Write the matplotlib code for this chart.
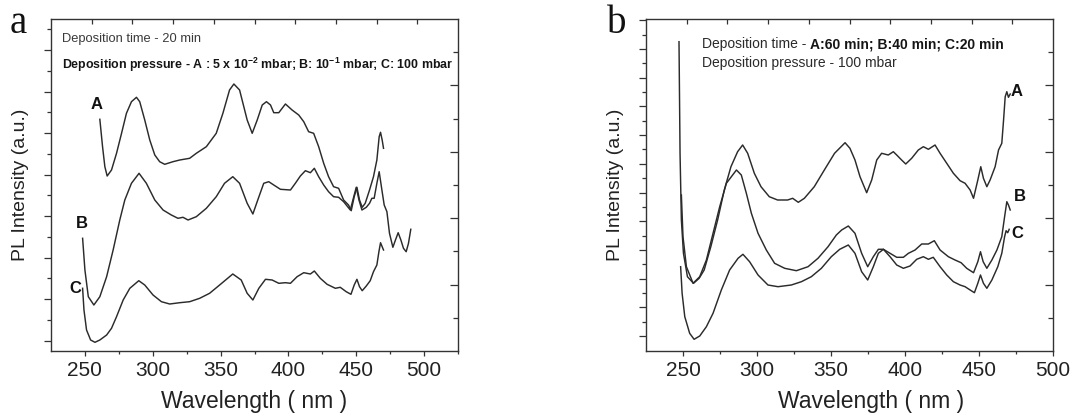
import numpy as np
import matplotlib
matplotlib.use("Agg")
import matplotlib.pyplot as plt
from matplotlib.transforms import offset_copy

plt.rcParams["font.family"] = ["Liberation Sans", "DejaVu Sans"]
plt.rcParams["mathtext.fontset"] = "custom"
plt.rcParams["mathtext.rm"] = "Liberation Sans"
plt.rcParams["mathtext.bf"] = "Liberation Sans:bold"
plt.rcParams["mathtext.it"] = "Liberation Sans:italic"

# ---------------- panel a: deposition time 20 min, varying pressure ----------------
wl_a_A = [261.0, 263.0, 264.7, 266.4, 269.6, 273.3, 277.0, 280.6, 284.3, 288.0,
          290.4, 294.1, 297.8, 301.5, 305.1, 308.8, 314.9, 319.9, 327.2, 332.1,
          339.5, 346.8, 351.7, 356.6, 359.8, 364.0, 369.6, 373.3, 377.0, 380.7,
          383.8, 386.8, 389.2, 392.9, 397.8, 402.7, 407.6, 411.3, 414.9, 418.6,
          422.3, 426.0, 429.6, 433.3, 437.0, 440.7, 444.3, 446.3, 448.5, 450.5,
          452.4, 454.4, 456.6, 459.8, 462.7, 465.2, 466.9, 467.9, 469.1, 470.1]
pl_a_A = [231.7, 204.3, 184.3, 175.0, 181.0, 197.7, 217.7, 237.7, 249.3, 253.7,
          249.3, 231.0, 211.0, 196.0, 189.3, 186.7, 189.3, 191.0, 192.7, 197.7,
          204.3, 217.7, 237.7, 261.0, 267.0, 261.0, 231.0, 217.7, 231.0, 246.0,
          249.3, 246.0, 238.3, 238.3, 247.0, 241.0, 236.0, 229.3, 219.3, 217.7,
          204.3, 187.7, 174.3, 164.3, 162.7, 151.0, 146.0, 140.3, 154.3, 163.7,
          151.0, 143.7, 147.7, 161.0, 174.3, 191.0, 214.3, 218.7, 211.0, 202.7]

wl_a_B = [248.3, 250.0, 252.5, 256.6, 261.0, 266.0, 270.8, 275.7, 279.4, 284.3,
          289.9, 295.3, 301.5, 307.6, 313.7, 318.6, 322.3, 326.0, 332.1, 339.5,
          346.8, 352.9, 359.0, 364.0, 369.6, 373.8, 377.4, 381.8, 385.5, 389.2,
          394.1, 401.5, 405.1, 408.8, 412.5, 416.2, 419.1, 422.3, 426.0, 429.6,
          433.3, 437.0, 440.7, 445.6, 448.5, 450.0, 452.0, 454.2, 457.4, 459.8,
          461.5, 463.2, 465.2, 466.9, 468.9, 470.6, 472.6, 474.5, 477.0, 478.9,
          480.9, 482.9, 484.8, 486.8, 488.5, 490.2]
pl_a_B = [112.7, 81.0, 54.3, 46.0, 54.3, 74.3, 101.0, 131.0, 151.0, 167.7,
          177.7, 167.7, 151.0, 141.0, 136.0, 132.7, 133.7, 131.0, 134.3, 142.7,
          154.3, 167.7, 174.3, 167.7, 147.7, 137.0, 151.0, 167.7, 169.3, 166.0,
          161.7, 161.0, 167.7, 175.0, 180.3, 178.3, 182.7, 174.3, 166.0, 159.3,
          154.3, 153.7, 149.3, 141.0, 156.0, 163.7, 151.0, 141.0, 143.7, 147.7,
          152.7, 152.7, 167.7, 179.3, 161.0, 146.0, 139.3, 117.7, 103.7, 111.0,
          118.3, 111.0, 102.7, 99.3, 107.7, 121.7]

wl_a_C = [248.3, 249.3, 251.2, 254.2, 257.4, 261.0, 266.0, 269.6, 273.3, 278.2,
          283.1, 289.7, 294.1, 300.2, 306.4, 312.5, 319.9, 327.2, 334.6, 341.9,
          349.3, 359.0, 365.2, 369.6, 373.8, 378.2, 383.1, 388.0, 392.9, 397.8,
          401.5, 406.4, 411.3, 416.2, 419.1, 423.5, 428.5, 434.6, 438.2, 442.6,
          446.1, 448.5, 450.5, 452.4, 454.4, 457.4, 460.3, 462.7, 465.2, 466.7,
          467.9, 469.1, 470.1]
pl_a_C = [62.7, 41.0, 21.0, 11.0, 8.7, 11.0, 16.0, 22.7, 34.3, 51.0,
          62.7, 70.3, 66.0, 56.0, 49.3, 47.0, 48.3, 49.3, 52.7, 57.7,
          66.0, 77.0, 71.0, 57.7, 51.0, 62.7, 71.7, 71.0, 67.7, 68.3,
          67.7, 74.3, 78.3, 77.0, 80.0, 72.7, 66.7, 62.7, 63.7, 59.3,
          56.7, 66.0, 71.7, 64.3, 60.3, 65.0, 70.3, 79.3, 86.0, 99.3,
          108.3, 104.3, 101.0]

# ---------------- panel b: pressure 100 mbar, varying deposition time ----------------
wl_b_A = [247.3, 248.0, 248.9, 250.3, 253.0, 257.1, 260.9, 264.3, 268.8, 273.4,
          277.9, 282.4, 286.9, 290.3, 293.7, 298.2, 302.7, 308.3, 313.9, 320.7,
          324.1, 327.9, 332.0, 338.7, 345.5, 352.4, 359.5, 362.8, 366.2, 369.6,
          374.1, 377.5, 380.9, 384.2, 388.7, 392.1, 394.4, 397.7, 400.5, 404.5,
          409.0, 412.4, 415.8, 420.3, 423.7, 428.2, 432.7, 437.2, 440.6, 444.0,
          446.3, 449.2, 451.2, 453.0, 455.3, 457.5, 460.9, 463.2, 465.4, 466.6,
          467.7, 468.8, 469.9, 471.1]
pl_b_A = [309.3, 197.7, 131.0, 97.7, 74.3, 67.7, 72.7, 81.0, 104.3, 131.0,
          161.0, 184.3, 199.3, 206.0, 197.7, 177.7, 164.3, 154.3, 151.0, 151.0,
          152.7, 148.7, 152.7, 164.3, 181.0, 197.7, 208.3, 202.7, 191.0, 174.3,
          158.3, 171.0, 191.0, 197.7, 196.0, 199.3, 196.0, 191.0, 187.0, 192.7,
          201.0, 204.3, 201.7, 206.0, 197.7, 187.7, 177.7, 170.3, 167.7, 161.0,
          152.7, 171.0, 184.3, 172.7, 164.3, 171.0, 184.3, 201.0, 207.7, 231.0,
          254.3, 259.3, 253.7, 257.0]

wl_b_B = [248.9, 250.0, 252.3, 256.8, 261.3, 265.8, 270.3, 274.8, 279.3, 286.1,
          289.4, 292.8, 296.2, 300.7, 306.3, 311.9, 318.7, 326.6, 334.5, 341.2,
          348.0, 353.6, 357.2, 361.7, 366.2, 370.7, 374.8, 378.6, 382.0, 385.4,
          389.9, 394.4, 398.9, 402.3, 406.8, 411.3, 415.8, 419.8, 423.7, 429.3,
          433.8, 437.9, 441.7, 446.3, 449.2, 451.0, 452.8, 455.3, 458.7, 462.1,
          465.4, 467.3, 468.8, 469.9, 471.1]
pl_b_B = [156.0, 114.3, 84.3, 67.7, 74.3, 91.0, 117.7, 144.3, 167.7, 181.0,
          176.0, 157.7, 137.7, 117.7, 101.0, 87.7, 82.7, 80.3, 84.3, 92.7,
          104.3, 116.0, 121.0, 125.0, 117.7, 97.7, 84.3, 94.3, 101.7, 101.7,
          97.7, 93.7, 93.7, 97.7, 101.0, 107.0, 107.0, 110.3, 101.0, 94.3,
          91.0, 88.3, 82.7, 78.3, 89.3, 99.3, 89.3, 82.7, 91.0, 101.0,
          114.3, 134.3, 149.3, 146.0, 141.0]

wl_b_C = [248.4, 249.4, 251.2, 254.5, 257.5, 261.3, 265.8, 270.3, 275.9, 281.5,
          287.2, 290.5, 295.0, 300.7, 307.4, 314.2, 323.2, 330.0, 336.7, 343.5,
          350.2, 355.9, 361.7, 366.2, 370.7, 374.8, 378.6, 382.0, 385.4, 389.9,
          394.4, 398.9, 403.4, 407.9, 412.4, 415.8, 419.1, 423.7, 428.2, 432.7,
          437.2, 440.6, 444.0, 446.9, 449.2, 451.0, 453.0, 455.3, 458.7, 462.7,
          465.4, 467.3, 468.3, 469.4, 470.4]
pl_b_C = [84.3, 57.7, 34.3, 17.7, 11.7, 15.0, 24.3, 37.7, 61.0, 81.0,
          92.7, 96.7, 89.3, 76.0, 66.0, 64.3, 66.0, 69.3, 74.3, 82.7,
          94.3, 101.7, 106.0, 97.7, 79.3, 71.0, 84.3, 97.7, 101.7, 94.3,
          86.0, 82.7, 85.0, 91.7, 94.3, 91.7, 93.7, 84.3, 76.0, 69.3,
          66.0, 64.3, 61.0, 58.3, 67.7, 76.0, 67.7, 62.7, 71.0, 84.3,
          97.7, 114.3, 120.3, 118.3, 121.7]

# curve letters: (label, wavelength, intensity)
labels_a = [("A", 258.6, 246.7), ("B", 247.6, 127.7), ("C", 242.6, 62.7)]
labels_b = [("A", 475.5, 259.3), ("B", 477.7, 154.3), ("C", 476.2, 117.7)]

x_ticks = [250, 300, 350, 400, 450, 500]
Y_MAX = 332.0

LINE = "#2b2b2b"
AXC = "#333333"
TXT = "#222222"

fig = plt.figure(figsize=(10.78, 4.17), dpi=100)
W, H = 1078.0, 417.0
ax_a = fig.add_axes([51 / W, 66 / H, 407 / W, 332 / H])
ax_b = fig.add_axes([646 / W, 66 / H, 407 / W, 332 / H])


def style_axes(ax, xlim, left_major0, left_step):
    ax.set_xlim(*xlim)
    ax.set_ylim(0, Y_MAX)
    for s in ax.spines.values():
        s.set_color(AXC)
        s.set_linewidth(1.0)
    # bottom axis
    ax.set_xticks(x_ticks)
    ax.set_xticks(np.arange(275, xlim[1] + 0.1, 50), minor=True)
    ax.tick_params(axis="x", which="major", direction="out", length=3.4,
                   width=0.9, color=AXC, labelsize=15, labelcolor=TXT, pad=4)
    ax.tick_params(axis="x", which="minor", direction="out", length=2.3,
                   width=0.9, color=AXC)
    # left axis: ticks only
    majors = np.arange(left_major0, Y_MAX, left_step)
    minors = np.arange(left_major0 + left_step / 2, Y_MAX, left_step)
    ax.set_yticks(majors)
    ax.set_yticks(minors, minor=True)
    ax.tick_params(axis="y", which="major", direction="out", length=5.0,
                   width=0.9, color=AXC, labelleft=False)
    ax.tick_params(axis="y", which="minor", direction="out", length=3.2,
                   width=0.9, color=AXC)
    # top axis: ten equal divisions
    top = ax.twiny()
    top.set_xlim(*xlim)
    span = xlim[1] - xlim[0]
    top.set_xticks([xlim[0] + span * k / 10 for k in range(1, 10)])
    top.tick_params(axis="x", direction="in", length=3.6, width=0.9,
                    color=AXC, labeltop=False)
    top.set_xticks([], minor=True)
    # right axis: ten divisions, alternating long/short
    right = ax.twinx()
    right.set_ylim(0, Y_MAX)
    right.set_yticks([Y_MAX * k / 5 for k in range(1, 5)])
    right.set_yticks([Y_MAX * (2 * k + 1) / 10 for k in range(5)], minor=True)
    right.tick_params(axis="y", which="major", direction="in", length=5.8,
                      width=0.9, color=AXC, labelright=False)
    right.tick_params(axis="y", which="minor", direction="in", length=3.8,
                      width=0.9, color=AXC)
    for tw in (top, right):
        for s in tw.spines.values():
            s.set_visible(False)
    ax.set_xlabel("Wavelength ( nm )", fontsize=16.5, color=TXT)
    ax.set_ylabel("PL Intensity (a.u.)", fontsize=14, color=TXT)
    ax.yaxis.set_label_coords(-0.054, 0.5)


style_axes(ax_a, (225, 525), 10.3, 41.5)
style_axes(ax_b, (225, 500), 15.0, 28.7)
ax_a.xaxis.set_label_coords(0.5, -0.117)
ax_b.xaxis.set_label_coords(0.553, -0.117)
ax_a.xaxis.label.set_va("top")
ax_b.xaxis.label.set_va("top")

for wl, pl in ((wl_a_A, pl_a_A), (wl_a_B, pl_a_B), (wl_a_C, pl_a_C)):
    ax_a.plot(wl, pl, color=LINE, lw=1.05, solid_joinstyle="round")
for wl, pl in ((wl_b_A, pl_b_A), (wl_b_B, pl_b_B), (wl_b_C, pl_b_C)):
    ax_b.plot(wl, pl, color=LINE, lw=1.05, solid_joinstyle="round")

for ax, labs in ((ax_a, labels_a), (ax_b, labels_b)):
    for name, x, y in labs:
        ax.text(x, y, name, fontsize=12, fontweight="bold", color="#111111",
                ha="center", va="center")

# annotations, panel a
ax_a.text(0.026, 0.932, "Deposition time - 20 min", transform=ax_a.transAxes,
          fontsize=9.3, color="#3a3a3a", va="baseline", ha="left")
ax_a.text(0.026, 0.8485,
          r"Deposition pressure - A : 5 x 10$^{\mathbf{-2}}$ mbar; "
          r"B: 10$^{\mathbf{-1}}$ mbar; C: 100 mbar",
          transform=ax_a.transAxes, fontsize=8.9, fontweight="bold",
          color="#151515", va="baseline", ha="left")

# annotations, panel b (regular text followed by a bold run)
t1 = ax_b.text(0.137, 0.912, "Deposition time -", transform=ax_b.transAxes,
               fontsize=10, color="#2a2a2a", va="baseline", ha="left")
fig.canvas.draw()
w_px = t1.get_window_extent().width + 0.278 * 10 * 100 / 72
ax_b.text(0.137, 0.912, "A:60 min; B:40 min; C:20 min",
          transform=offset_copy(ax_b.transAxes, fig=fig, x=w_px, y=0, units="dots"),
          fontsize=10, fontweight="bold", color="#151515", va="baseline", ha="left")
ax_b.text(0.137, 0.856, "Deposition pressure - 100 mbar", transform=ax_b.transAxes,
          fontsize=10, color="#2a2a2a", va="baseline", ha="left")

# panel letters
fig.text(10 / W, 1 - 33 / H, "a", fontsize=28, family="Liberation Serif",
         color="#111111", va="baseline", ha="left")
fig.text(607 / W, 1 - 33 / H, "b", fontsize=28, family="Liberation Serif",
         color="#111111", va="baseline", ha="left")

fig.savefig("out.png", dpi=100)
